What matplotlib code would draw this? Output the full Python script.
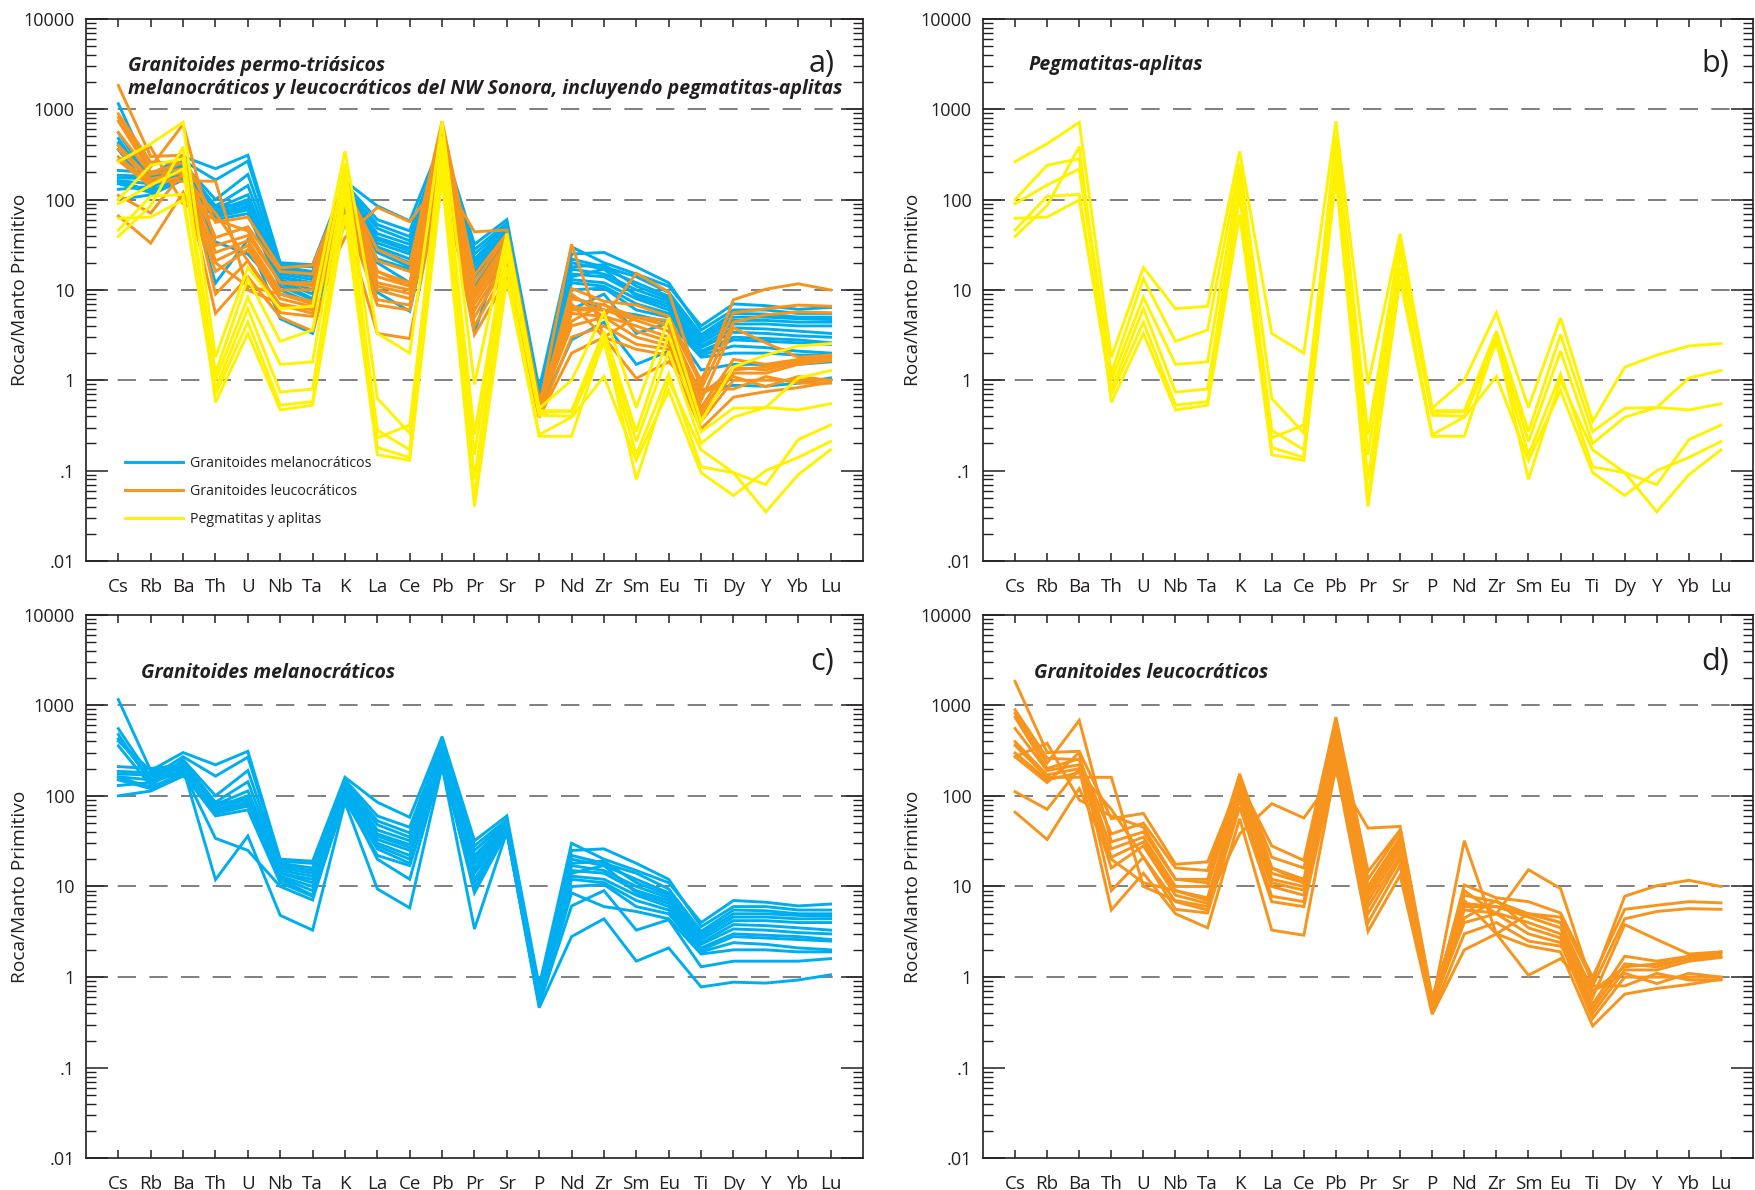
import matplotlib
matplotlib.use("Agg")
import matplotlib.pyplot as plt
from matplotlib.ticker import FixedLocator, FixedFormatter, LogLocator, NullFormatter
from matplotlib.lines import Line2D

plt.rcParams['font.family'] = ['Open Sans', 'DejaVu Sans']

# Elements of the spider diagram (normalised to primitive mantle)
elements = ["Cs", "Rb", "Ba", "Th", "U", "Nb", "Ta", "K", "La", "Ce", "Pb", "Pr",
            "Sr", "P", "Nd", "Zr", "Sm", "Eu", "Ti", "Dy", "Y", "Yb", "Lu"]

# Melanocratic granitoids (one row per sample, same order as `elements`)
melanocraticos = [
    [1150, 190, 300, 220, 310, 20, 19, 160, 85, 58, 450, 32, 60, 0.8, 30, 20, 15, 11, 4.0, 7.0, 6.7, 6.1, 6.4],
    [550, 160, 270, 165, 267, 19, 18, 150, 60, 45, 400, 28, 55, 0.7, 25, 26, 18, 12, 3.6, 6.0, 6.0, 5.5, 5.5],
    [475, 140, 250, 100, 190, 18, 16, 140, 53, 39, 380, 25, 52, 0.65, 22, 18, 14, 9.4, 3.2, 5.5, 5.4, 5.0, 5.0],
    [425, 150, 240, 85, 143, 17, 15, 135, 48, 35, 350, 22, 50, 0.6, 20, 17, 12, 8.5, 3.0, 5.0, 5.0, 4.8, 4.7],
    [356, 130, 230, 80, 113, 16, 14, 130, 42, 32, 330, 20, 48, 0.7, 18, 19, 11, 8.0, 2.8, 4.6, 4.6, 4.4, 4.4],
    [210, 200, 220, 75, 100, 15, 13, 125, 38, 29, 310, 18, 46, 0.6, 17, 15, 10, 7.5, 2.6, 4.2, 4.2, 4.0, 4.0],
    [186, 180, 210, 70, 93, 14, 12, 120, 36, 27, 300, 16, 45, 0.55, 15, 14, 9, 7.0, 2.4, 3.8, 3.7, 3.5, 3.3],
    [174, 170, 200, 68, 85, 14, 11, 115, 33, 25, 280, 15, 44, 0.6, 14, 17, 8.5, 6.5, 2.3, 3.4, 3.3, 3.1, 3.0],
    [162, 150, 190, 66, 80, 13, 10, 110, 30, 22, 260, 14, 42, 0.5, 13, 12, 8, 6.0, 2.1, 3.0, 2.9, 2.8, 2.6],
    [150, 120, 180, 64, 77, 12.5, 9, 100, 28, 20, 240, 12, 42, 0.6, 12, 11, 7, 5.5, 2.0, 2.8, 2.7, 2.6, 2.5],
    [100, 113, 165, 83, 90, 12, 8, 95, 26, 18, 230, 11, 40, 0.55, 10, 10.5, 6, 5.0, 1.9, 2.4, 2.3, 2.1, 2.0],
    [160, 125, 175, 60, 70, 11, 7.8, 90, 22, 17, 220, 9.5, 41, 0.5, 8.5, 6, 5.3, 4.4, 1.8, 2.0, 2.0, 1.9, 1.9],
    [130, 140, 185, 34, 25, 10, 7.1, 100, 20, 12, 230, 8.5, 40, 0.5, 6.1, 9, 3.3, 4.3, 1.3, 1.5, 1.5, 1.5, 1.6],
    [400, 190, 200, 11.9, 36, 4.8, 3.3, 85, 9.4, 5.8, 210, 3.4, 40, 0.46, 2.8, 4.4, 1.5, 2.1, 0.78, 0.88, 0.86, 0.93, 1.06],
]

# Leucocratic granitoids
leucocraticos = [
    [1830, 300, 310, 56, 64, 17.6, 18.7, 140, 28, 19.4, 736, 14.6, 42, 0.5, 32, 3.0, 5.0, 4.6, 0.9, 7.8, 10.2, 11.7, 10],
    [890, 260, 250, 38, 50, 16, 15, 160, 21, 16, 600, 12, 40, 0.45, 10.4, 7.5, 6.8, 5.1, 1.0, 5.6, 6.2, 6.8, 6.6],
    [810, 230, 680, 31, 40, 12, 12, 175, 16, 12, 500, 10, 35, 0.5, 9, 5.0, 15.3, 9.5, 0.8, 4.4, 5.3, 5.7, 5.6],
    [736, 200, 257, 26, 35, 10, 10, 145, 14, 11, 450, 9, 30, 0.55, 8, 6.8, 5, 4.0, 0.6, 3.8, 2.6, 1.8, 1.9],
    [553, 190, 220, 21, 31, 9, 7.5, 120, 12, 10, 400, 8, 28, 0.42, 6.5, 6, 4.6, 3.5, 0.5, 1.7, 1.5, 1.7, 1.8],
    [396, 170, 200, 16, 28, 8, 6.5, 110, 11, 9.1, 350, 7, 25, 0.45, 5.5, 5.1, 4, 3.0, 0.45, 1.4, 1.3, 1.6, 1.7],
    [360, 160, 160, 160, 10, 7, 6, 100, 10, 8, 300, 6, 22, 0.5, 4.5, 7, 3.5, 2.7, 0.4, 1.2, 1.2, 1.5, 1.65],
    [297, 150, 180, 71, 21, 6.8, 5.5, 90, 7.8, 6.8, 260, 5, 20, 0.48, 4, 5, 3, 2.4, 0.35, 1.0, 1.0, 1.0, 1.0],
    [270, 140, 300, 9, 21, 5.6, 5.1, 75, 6.8, 6, 230, 4, 17, 0.4, 3, 4, 2.5, 2.2, 0.8, 0.8, 1.1, 0.93, 0.93],
    [111, 71, 200, 5.5, 14, 5.0, 3.5, 56, 3.3, 2.9, 210, 3.2, 13.3, 0.39, 2.0, 3.0, 2.2, 1.9, 0.29, 0.65, 0.75, 0.83, 0.95],
    [66, 33, 120, 20, 11, 9, 7, 38, 82, 57, 175, 44, 46, 0.6, 7, 3, 1.05, 1.6, 0.7, 1.1, 0.85, 1.1, 1.0],
    [270, 380, 90, 60, 45, 12, 11, 130, 16, 11, 420, 9, 33, 0.5, 6, 6, 5, 4, 0.7, 1.3, 1.4, 1.6, 1.9],
]

# Pegmatites and aplites
pegmatitas = [
    [263, 415, 716, 1.8, 17.7, 6.2, 6.6, 343, 3.3, 2.0, 735, 0.9, 42, 0.49, 1.0, 5.6, 0.5, 4.9, 0.35, 1.4, 1.9, 2.4, 2.55],
    [100, 240, 283, 1.2, 13.3, 2.7, 3.6, 250, 0.63, 0.26, 500, 0.25, 35, 0.46, 0.46, 3.5, 0.27, 3.2, 0.27, 0.49, 0.5, 0.47, 0.55],
    [90, 145, 218, 1.0, 8.3, 1.5, 1.6, 190, 0.23, 0.32, 400, 0.15, 30, 0.44, 0.45, 3.0, 0.21, 2.1, 0.2, 0.39, 0.5, 1.06, 1.28],
    [62, 64, 99, 0.8, 6.2, 0.74, 0.8, 145, 0.28, 0.17, 300, 0.08, 25, 0.41, 0.40, 2.6, 0.15, 1.17, 0.11, 0.095, 0.07, 0.22, 0.32],
    [46, 109, 114, 0.7, 4.4, 0.53, 0.58, 110, 0.18, 0.14, 250, 0.05, 18, 0.25, 0.39, 1.1, 0.13, 0.77, 0.095, 0.053, 0.1, 0.14, 0.21],
    [39, 86, 385, 0.57, 3.3, 0.47, 0.53, 68, 0.15, 0.13, 175, 0.04, 13, 0.24, 0.24, 2.9, 0.08, 1.0, 0.17, 0.095, 0.035, 0.09, 0.17],
]

# Axis decorations
ytick_values = [0.01, 0.1, 1, 10, 100, 1000, 10000]
ytick_labels = [".01", ".1", "1", "10", "100", "1000", "10000"]
dashed_levels = [1, 10, 100, 1000]

color_mel = "#00AEEF"
color_leu = "#F7941D"
color_peg = "#FFF200"
text_col = "#231f20"
line_w = 2.1

fig = plt.figure(figsize=(17.55, 11.9), dpi=100)
ax_a = fig.add_axes([0.049, 0.5286, 0.4427, 0.4555])
ax_b = fig.add_axes([0.5601, 0.5286, 0.4388, 0.4555])
ax_c = fig.add_axes([0.049, 0.0265, 0.4427, 0.4571])
ax_d = fig.add_axes([0.5601, 0.0265, 0.4388, 0.4571])

x = list(range(len(elements)))


def style_axes(ax, label_x):
    ax.set_yscale("log")
    ax.set_ylim(0.01, 10000)
    ax.set_xlim(-1, len(elements))
    ax.xaxis.set_major_locator(FixedLocator(x))
    ax.xaxis.set_major_formatter(FixedFormatter(elements))
    ax.yaxis.set_major_locator(FixedLocator(ytick_values))
    ax.yaxis.set_major_formatter(FixedFormatter(ytick_labels))
    ax.yaxis.set_minor_locator(LogLocator(base=10, subs=range(2, 10), numticks=20))
    ax.yaxis.set_minor_formatter(NullFormatter())
    ax.tick_params(axis="y", which="major", direction="in", length=16, width=1.1,
                   left=True, right=True, labelsize=13, pad=8, colors=text_col)
    ax.tick_params(axis="y", which="minor", direction="in", length=7, width=1.0,
                   left=True, right=True, colors=text_col)
    ax.tick_params(axis="x", which="major", direction="in", length=6, width=1.1,
                   top=True, bottom=True, labelsize=13.5, pad=12, colors=text_col)
    for s in ax.spines.values():
        s.set_linewidth(1.2)
        s.set_color(text_col)
    for lv in dashed_levels:
        ax.axhline(lv, color="#6a6a6a", lw=1.2, dashes=(11, 8), zorder=0.5)
    ax.set_ylabel("Roca/Manto Primitivo", fontsize=13.8, color=text_col)
    ax.yaxis.set_label_coords(label_x, 0.5)


def draw_group(ax, rows, color):
    for row in rows:
        ax.plot(x, row, color=color, lw=line_w, solid_joinstyle="miter", zorder=2)


for ax, lx in [(ax_a, -0.073), (ax_b, -0.079), (ax_c, -0.073), (ax_d, -0.079)]:
    style_axes(ax, lx)

# a) all groups together
draw_group(ax_a, melanocraticos, color_mel)
draw_group(ax_a, leucocraticos, color_leu)
draw_group(ax_a, pegmatitas, color_peg)
# b) pegmatites and aplites
draw_group(ax_b, pegmatitas, color_peg)
# c) melanocratic granitoids
draw_group(ax_c, melanocraticos, color_mel)
# d) leucocratic granitoids
draw_group(ax_d, leucocraticos, color_leu)

title_kw = dict(fontsize=14, fontweight="bold", fontstyle="italic", color=text_col,
                va="center", ha="left")
ax_a.text(0.0535, 0.913, "Granitoides permo-triásicos", transform=ax_a.transAxes, **title_kw)
ax_a.text(0.0535, 0.871,
          "melanocráticos y leucocráticos del NW Sonora, incluyendo pegmatitas-aplitas",
          transform=ax_a.transAxes, **title_kw)
ax_b.text(0.059, 0.915, "Pegmatitas-aplitas", transform=ax_b.transAxes, **title_kw)
ax_c.text(0.071, 0.892, "Granitoides melanocráticos", transform=ax_c.transAxes, **title_kw)
ax_d.text(0.066, 0.892, "Granitoides leucocráticos", transform=ax_d.transAxes, **title_kw)

panel_kw = dict(fontsize=22, color=text_col, va="center", ha="right")
ax_a.text(0.963, 0.917, "a)", transform=ax_a.transAxes, **panel_kw)
ax_b.text(0.969, 0.917, "b)", transform=ax_b.transAxes, **panel_kw)
ax_c.text(0.963, 0.912, "c)", transform=ax_c.transAxes, **panel_kw)
ax_d.text(0.969, 0.912, "d)", transform=ax_d.transAxes, **panel_kw)

handles = [Line2D([], [], color=color_mel, lw=line_w),
           Line2D([], [], color=color_leu, lw=line_w),
           Line2D([], [], color=color_peg, lw=line_w)]
ax_a.legend(handles, ["Granitoides melanocráticos", "Granitoides leucocráticos",
                      "Pegmatitas y aplitas"],
            loc="lower left", bbox_to_anchor=(0.05, 0.062), frameon=False,
            fontsize=10.2, handlelength=4.1, handletextpad=0.5, labelspacing=0.93,
            borderpad=0, borderaxespad=0, labelcolor=text_col)

fig.savefig("out.png", dpi=100)
